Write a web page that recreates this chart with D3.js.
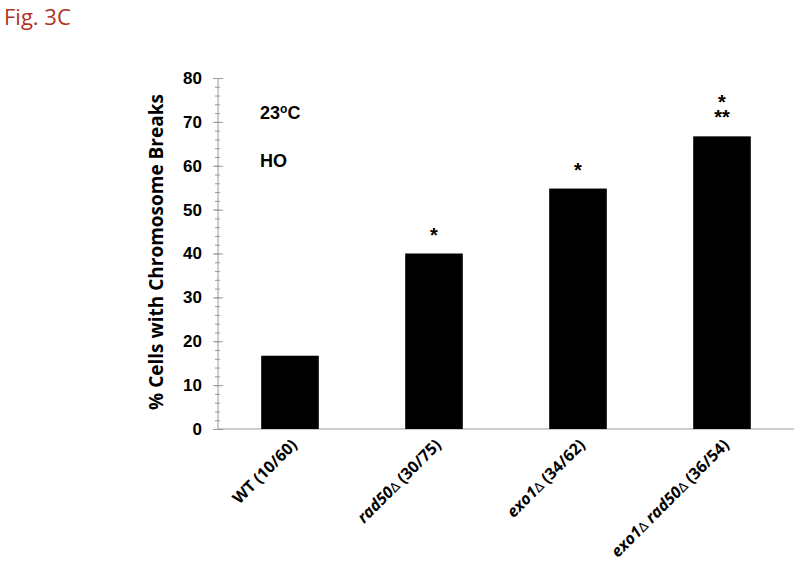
<!DOCTYPE html>
<html>
<head>
<meta charset="utf-8">
<script src="https://cdn.jsdelivr.net/npm/d3@7"></script>
<style>
  body { margin: 0; background: #fff; }
  svg { display: block; }
</style>
</head>
<body>
<svg id="chart" width="800" height="570"></svg>
<script>
// dati
const genotypes = ["WT", "rad50", "exo1", "exo1rad50"];
const counts = ["(10/60)", "(30/75)", "(34/62)", "(36/54)"];
const percent = [16.7, 40.0, 54.8, 66.7];
const stars = [[], ["*"], ["*"], ["*", "**"]];
const yTicks = [0, 10, 20, 30, 40, 50, 60, 70, 80];

const svg = d3.select("#chart");
const x0 = 218, x1 = 794, yTop = 78, yBot = 429;

const x = d3.scaleBand()
  .domain(genotypes)
  .range([x0, x1])
  .paddingInner(0.6)
  .paddingOuter(0.3);

const y = d3.scaleLinear().domain([0, 80]).range([yBot, yTop]);

// titolo della figura
svg.append("text")
  .attr("x", 4).attr("y", 25)
  .style("font-family", "'Open Sans', sans-serif")
  .style("font-size", "22px")
  .style("fill", "#b0331f")
  .text("Fig. 3C");

// tacche minori
const axisG = svg.append("g").attr("transform", `translate(${x0},0)`);
axisG.append("g")
  .call(d3.axisLeft(y).tickValues(d3.range(0, 81, 2)).tickSize(3).tickFormat(""))
  .call(g => g.select(".domain").remove())
  .call(g => g.selectAll("line").attr("x1", 2).attr("x2", -3).attr("stroke", "#9a9a9a"));

// tacche principali + etichette
axisG.append("g")
  .call(d3.axisLeft(y).tickValues(yTicks).tickSize(5).tickPadding(11))
  .call(g => g.select(".domain").attr("stroke", "#9a9a9a").attr("d", `M0,${yTop}V${yBot}`))
  .call(g => g.selectAll("line").attr("x1", 5).attr("x2", -5).attr("stroke", "#9a9a9a"))
  .call(g => g.selectAll("text")
    .style("font-family", "'Liberation Sans', Arial, sans-serif")
    .style("font-size", "17px")
    .style("font-weight", "bold")
    .attr("fill", "#000"));

// asse x
svg.append("line")
  .attr("x1", x0).attr("x2", x1)
  .attr("y1", yBot).attr("y2", yBot)
  .attr("stroke", "#9a9a9a");

// barre
svg.append("g").selectAll("rect")
  .data(genotypes)
  .join("rect")
  .attr("x", d => x(d))
  .attr("width", x.bandwidth())
  .attr("y", (d, i) => y(percent[i]))
  .attr("height", (d, i) => yBot - y(percent[i]))
  .attr("fill", "#000");

// asterischi (un solo testo per barra, righe con tspan)
genotypes.forEach((g, i) => {
  const n = stars[i].length;
  if (!n) return;
  const cx = x(g) + x.bandwidth() / 2;
  const t = svg.append("text")
    .attr("x", cx)
    .attr("y", y(percent[i]) - 12 - (n - 1) * 15)
    .attr("text-anchor", "middle")
    .style("font-family", "'Liberation Sans', Arial, sans-serif")
    .style("font-size", "20px")
    .style("font-weight", "bold");
  stars[i].forEach((s, j) => {
    t.append("tspan").attr("x", cx).attr("dy", j ? 15 : 0).text(s);
  });
});

// etichette asse x, ruotate
const labelFont = "'Open Sans', sans-serif";
genotypes.forEach((g, i) => {
  const cx = x(g) + x.bandwidth() / 2;
  const t = svg.append("text")
    .attr("transform", `translate(${cx + 8},${yBot + 17}) rotate(-45)`)
    .attr("text-anchor", "end")
    .style("font-family", labelFont)
    .style("font-size", "16px")
    .style("font-weight", "bold");
  const delta = sp => sp.style("font-weight", "normal").style("font-family", "'DejaVu Sans', sans-serif").style("font-size", "13px");
  if (g === "WT") {
    t.append("tspan").text("WT ");
  } else if (g === "rad50") {
    t.append("tspan").style("font-style", "italic").text("rad50");
    t.append("tspan").call(delta).text("\u2206 ");
  } else if (g === "exo1") {
    t.append("tspan").style("font-style", "italic").text("exo1");
    t.append("tspan").call(delta).text("\u2206 ");
  } else {
    t.append("tspan").style("font-style", "italic").text("exo1");
    t.append("tspan").call(delta).text("\u2206  ");
    t.append("tspan").style("font-style", "italic").text("rad50");
    t.append("tspan").call(delta).text("\u2206 ");
  }
  t.append("tspan").text(counts[i]);
});

// titolo asse y
svg.append("text")
  .attr("transform", `translate(163,252) rotate(-90)`)
  .attr("text-anchor", "middle")
  .style("font-family", "'Open Sans', sans-serif")
  .style("font-size", "19px")
  .style("font-weight", "bold")
  .text("% Cells with Chromosome Breaks");

// annotazioni
const note = svg.append("text")
  .attr("x", 260).attr("y", 119)
  .style("font-family", "'Liberation Sans', Arial, sans-serif")
  .style("font-size", "18px")
  .style("font-weight", "bold");
note.append("tspan").text("23");
note.append("tspan").attr("dy", -6).style("font-size", "12px").text("o");
note.append("tspan").attr("dy", 6).text("C");

svg.append("text")
  .attr("x", 260).attr("y", 167)
  .style("font-family", "'Liberation Sans', Arial, sans-serif")
  .style("font-size", "18px")
  .style("font-weight", "bold")
  .text("HO");
</script>
</body>
</html>
